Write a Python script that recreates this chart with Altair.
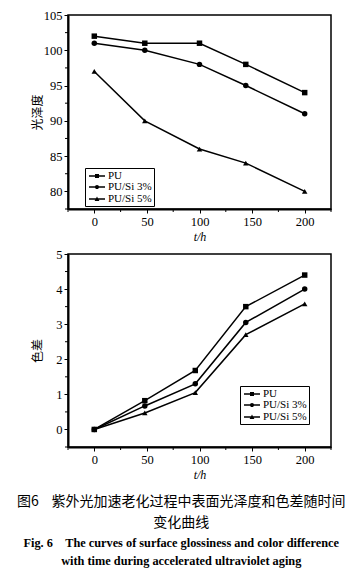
import altair as alt
import pandas as pd

series = ["PU", "PU/Si 3%", "PU/Si 5%"]
t_gloss = [0, 48, 100, 144, 200]
gloss_pu = [102, 101, 101, 98, 94]
gloss_si3 = [101, 100, 98, 95, 91]
gloss_si5 = [97, 90, 86, 84, 80]
t_color = [0, 48, 96, 144, 200]
color_pu = [0, 0.82, 1.68, 3.5, 4.4]
color_si3 = [0, 0.67, 1.3, 3.05, 4.0]
color_si5 = [0, 0.47, 1.05, 2.7, 3.58]
x_ticks = [0, 50, 100, 150, 200]
x_minor = [-25, 25, 75, 125, 175, 225]
gloss_ticks = [80, 85, 90, 95, 100, 105]
gloss_minor = [77.5, 82.5, 87.5, 92.5, 97.5, 102.5]
color_ticks = [0, 1, 2, 3, 4, 5]
color_minor = [-0.5, 0.5, 1.5, 2.5, 3.5, 4.5]

W, H1, H2 = 263, 194, 193
SERIF = "Liberation Serif"
CJK = "Noto Sans CJK SC"
SP = "\u00a0"

marker_shapes = ["square", "circle", "triangle-up"]
BAR = "M-1.6,-0.14H1.6V0.14H-1.6Z"
legend_paths = [
    BAR + "M-0.4,-0.4H0.4V0.4H-0.4Z",
    BAR + "M0.42,0A0.42,0.42,0,1,1,-0.42,0A0.42,0.42,0,1,1,0.42,0Z",
    BAR + "M0,-0.48L0.48,0.38H-0.48Z",
]


def make_df(t, ys):
    rows = []
    for name, vals in zip(series, ys):
        for tt, v in zip(t, vals):
            rows.append({"t": tt, "v": v, "series": name, "series_leg": name})
    return pd.DataFrame(rows)


def panel(df, ydomain, yticks, yminor, ytitle, H, lx, ly):
    xs = alt.Scale(domain=[-25, 225], nice=False, zero=False)
    ys = alt.Scale(domain=ydomain, nice=False, zero=False)
    xax = alt.Axis(values=x_ticks, title="t/h", titleFontStyle="italic",
                   titleFont=SERIF, titleFontSize=12, titleFontWeight="normal",
                   titlePadding=4, labelOverlap=False)
    yax = alt.Axis(values=yticks, title=ytitle, titleFont=CJK,
                   titleFontSize=12, titleFontWeight="normal",
                   titleX=-24, titleY=H / 2, labelOverlap=False,
                   labelBound=False, labelFlush=False)
    X = alt.X("t:Q", scale=xs, axis=xax)
    Y = alt.Y("v:Q", scale=ys, axis=yax)
    base = alt.Chart(df)
    lines = base.mark_line(color="black", strokeWidth=1.5).encode(
        x=X, y=Y, detail="series:N")
    pts = base.mark_point(filled=True, color="black", opacity=1, size=30).encode(
        x=X, y=Y,
        shape=alt.Shape("series:N", scale=alt.Scale(domain=series, range=marker_shapes),
                        legend=None),
    )
    leg = base.mark_point(filled=True, color="black", opacity=1, size=30).encode(
        x=X, y=Y,
        shape=alt.Shape("series_leg:N", scale=alt.Scale(domain=series, range=legend_paths),
                        legend=alt.Legend(title=None, orient="none", legendX=lx, legendY=ly,
                                          symbolSize=100, symbolFillColor="black",
                                          labelFont=SERIF, labelFontSize=11,
                                          labelColor="black", rowPadding=0,
                                          symbolOffset=4, labelOffset=5,
                                          strokeColor="black", padding=2)),
    ).transform_filter("datum.t < -1000")
    xm = alt.Chart(pd.DataFrame({"t": x_minor})).mark_rule(color="black", strokeWidth=1).encode(
        x=X, y=alt.value(H), y2=alt.value(H + 3))
    ym = alt.Chart(pd.DataFrame({"v": yminor})).mark_rule(color="black", strokeWidth=1).encode(
        y=Y, x=alt.value(0), x2=alt.value(-3))
    return alt.layer(lines, pts, leg, xm, ym).resolve_scale(shape="independent").properties(
        width=W, height=H)


top = panel(make_df(t_gloss, [gloss_pu, gloss_si3, gloss_si5]), [77.5, 105],
            gloss_ticks, gloss_minor, "光泽度", H1, 17, 153)
bottom = panel(make_df(t_color, [color_pu, color_si3, color_si5]), [-0.5, 5],
               color_ticks, color_minor, "色差", H2, 172, 132)

chart = alt.vconcat(top, bottom, spacing=3).properties(
    padding={"left": 9, "top": 0, "right": 0, "bottom": 0},
    title=alt.TitleParams(
        text=["图6" + SP * 4 + "紫外光加速老化过程中表面光泽度和色差随时间", "变化曲线"],
        subtitle=["Fig. 6" + SP * 4 + "The curves of surface glossiness and color difference",
                  "with time during accelerated ultraviolet aging"],
        orient="bottom", anchor="middle", font=CJK, fontSize=14, fontWeight="normal",
        lineHeight=21, subtitleFont=SERIF, subtitleFontSize=12.3,
        subtitleFontWeight="bold", subtitleLineHeight=18, subtitlePadding=7,
        offset=14, color="black", subtitleColor="black"),
).configure_view(stroke="black", strokeWidth=1.5).configure_axis(
    domainColor="black", domainWidth=2, tickColor="black", tickSize=4, tickWidth=1,
    labelFont=SERIF, labelFontSize=12.5, labelColor="black", labelPadding=2,
    grid=False, titleColor="black",
).configure_legend(symbolFillColor="black")

chart.save("out.html", embed_options={"renderer": "svg", "actions": False})
